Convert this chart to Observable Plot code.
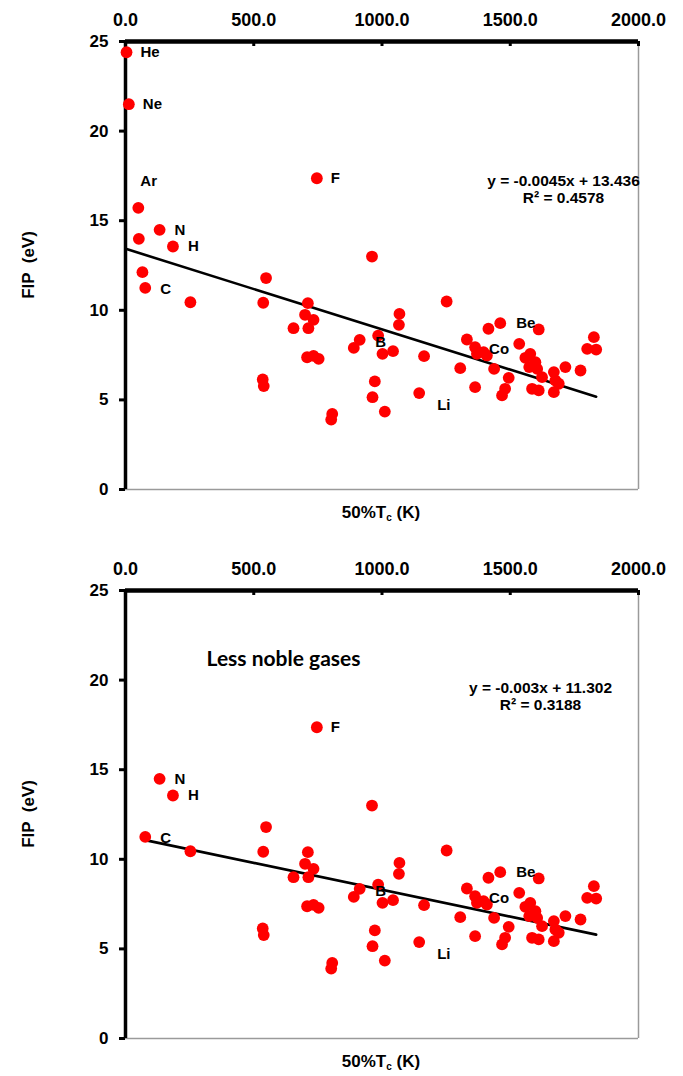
<!DOCTYPE html>
<html>
<head>
<meta charset="utf-8">
<script src="https://cdn.jsdelivr.net/npm/d3@7"></script>
<script src="https://cdn.jsdelivr.net/npm/@observablehq/plot@0.6"></script>
<style>
  html, body { margin: 0; padding: 0; background: #fff; }
  body { width: 683px; font-family: "Liberation Sans", Arial, sans-serif; }
  .xlab { position: relative; width: 683px; }
  .xlab span { position: absolute; left: 381px; top: 0; transform: translateX(-50%); line-height: 26px;
    font-weight: bold; font-size: 17px; white-space: nowrap; color: #000; }
  .xlab sub { font-size: 10px; vertical-align: -3px; }
</style>
</head>
<body>
<div id="top"></div>
<div class="xlab" style="height:49px"><span>50%T<sub>c</sub> (K)</span></div>
<div id="bottom"></div>
<div class="xlab" style="height:27px"><span>50%T<sub>c</sub> (K)</span></div>
<script>
// ---- data: 50% condensation temperature (K) and first ionization potential (eV)
const elements = ["He","Ne","Ar","Kr","Xe","N","H","C","F","B","Li","Co","Be",
  "","","","","","","","","","","","","","","","","","","","","","","","","","",
  "","","","","","","","","","","","","","","","","","","","","","","","","","","","",""];
const tc = [4, 13, 50, 52, 66, 133, 185, 77, 746, 985, 1145, 1363, 1461,
  253, 961, 548, 537, 711, 700, 733, 655, 713, 1068, 1066, 1252, 913, 890, 1002, 1043, 1164,
  708, 733, 753, 535, 539, 972, 963, 1011, 806, 802,
  1415, 1611, 1331, 1396, 1370, 1409, 1535, 1826, 1800, 1835, 1305, 1437, 1578, 1559, 1598,
  1574, 1605, 1715, 1774, 1670, 1624, 1676, 1689, 1494, 1363, 1480, 1468, 1585, 1611, 1670];
const fip = [24.4, 21.5, 15.72, 13.99, 12.13, 14.49, 13.56, 11.25, 17.37, 8.59, 5.38, 7.94, 9.28,
  10.45, 13.0, 11.8, 10.42, 10.4, 9.75, 9.47, 9.0, 9.0, 9.8, 9.19, 10.49, 8.35, 7.9, 7.57, 7.72, 7.44,
  7.38, 7.46, 7.29, 6.14, 5.77, 6.03, 5.15, 4.35, 4.22, 3.9,
  8.97, 8.93, 8.37, 7.66, 7.57, 7.48, 8.13, 8.5, 7.85, 7.81, 6.77, 6.73, 7.57, 7.35, 7.1,
  6.83, 6.73, 6.83, 6.64, 6.55, 6.27, 6.08, 5.9, 6.23, 5.71, 5.62, 5.25, 5.62, 5.53, 5.43];
const nobleGases = ["He","Ne","Ar","Kr","Xe"];
const labeledElements = ["He","Ne","Ar","N","H","C","F","B","Li","Co","Be"];
const xTicks = [0, 500, 1000, 1500, 2000];
const yTicks = [0, 5, 10, 15, 20, 25];
// Linear fits printed on the chart
const fitSlope = [-0.0045, -0.003];
const fitIntercept = [13.436, 11.302];
const fitText = [["y = -0.0045x + 13.436", "R\u00B2 = 0.4578"], ["y = -0.003x + 11.302", "R\u00B2 = 0.3188"]];
const panelNote = ["", "Less noble gases"];

// ---- rendering
const allRows = tc.map((t, i) => ({name: elements[i], tc: t, fip: fip[i]}));
const labelOffset = {He:[14,0], Ne:[14,0], Ar:[2,-27], N:[15,0], H:[15,0], C:[15,1], F:[14,0],
  B:[-3,7], Li:[18,12], Co:[14,2], Be:[16,0]};

function panel(rows, k) {
  const xs = d3.extent(rows, d => d.tc);
  const fit = xs.map(x => ({tc: x, fip: fitSlope[k] * x + fitIntercept[k]}));
  const labeled = rows.filter(d => labeledElements.includes(d.name));
  const marks = [
    Plot.ruleX([2000], {stroke: "#9a9a9a", strokeWidth: 1.5}),
    Plot.ruleY([0], {stroke: "#9a9a9a", strokeWidth: 1.5}),
    Plot.axisX(xTicks, {anchor: "top", tickSize: 0, tickPadding: 16, tickFormat: d => d.toFixed(1),
      fontSize: 18, fontWeight: "bold", label: null}),
    Plot.ruleX(xTicks.filter(d => d > 0), {y1: 25, y2: 24.72, stroke: "#000", strokeWidth: 3}),
    Plot.axisY(yTicks, {anchor: "left", tickSize: 6, tickPadding: 11, strokeWidth: 3,
      fontSize: 17, fontWeight: "bold", label: null}),
    Plot.ruleY([25], {stroke: "#000", strokeWidth: 4.5}),
    Plot.ruleX([0], {stroke: "#000", strokeWidth: 3.5}),
    Plot.line(fit, {x: "tc", y: "fip", stroke: "#000", strokeWidth: 2.6}),
    Plot.dot(rows, {x: "tc", y: "fip", r: 5.9, fill: "#ff0000", stroke: "none"}),
  ];
  for (const d of labeled) {
    const o = labelOffset[d.name] || [14, 0];
    marks.push(Plot.text([d], {x: "tc", y: "fip", text: "name", dx: o[0], dy: o[1], textAnchor: "start",
      lineAnchor: "middle", fontSize: 15, fontWeight: "bold", fill: "#000"}));
  }
  const eqPos = k === 0 ? [438, 140] : [415, 98];
  marks.push(Plot.text([fitText[k][0]], {frameAnchor: "top-left", text: d => d, dx: eqPos[0], dy: eqPos[1],
    textAnchor: "middle", lineAnchor: "middle", fontSize: 15.5, fontWeight: "bold", fill: "#000"}));
  marks.push(Plot.text([fitText[k][1]], {frameAnchor: "top-left", text: d => d, dx: eqPos[0], dy: eqPos[1] + 17,
    textAnchor: "middle", lineAnchor: "middle", fontSize: 15.5, fontWeight: "bold", fill: "#000"}));
  if (panelNote[k]) {
    marks.push(Plot.text([panelNote[k]], {frameAnchor: "top-left", text: d => d, dx: 158, dy: 69,
      textAnchor: "middle", lineAnchor: "middle", fontSize: 21, fontWeight: "bold", fill: "#000",
      fontFamily: "Lato, 'Open Sans', sans-serif"}));
  }
  const svg = Plot.plot({
    width: 683, height: 500,
    marginTop: 41, marginLeft: 125, marginRight: 45, marginBottom: 11,
    x: {domain: [0, 2000]},
    y: {domain: [0, 25]},
    style: {fontFamily: "'Liberation Sans', Arial, sans-serif", color: "#000", background: "#fff", overflow: "visible"},
    marks
  });
  d3.select(svg).append("text")
    .attr("transform", "translate(30,265) rotate(-90)")
    .attr("text-anchor", "middle").attr("dominant-baseline", "middle")
    .attr("font-family", "'Liberation Sans', Arial, sans-serif")
    .attr("font-weight", "bold").attr("font-size", 17).attr("fill", "#000")
    .style("white-space", "pre")
    .text("FIP  (eV)");
  return svg;
}

document.getElementById("top").appendChild(panel(allRows, 0));
document.getElementById("bottom").appendChild(panel(allRows.filter(d => !nobleGases.includes(d.name)), 1));
</script>
</body>
</html>
